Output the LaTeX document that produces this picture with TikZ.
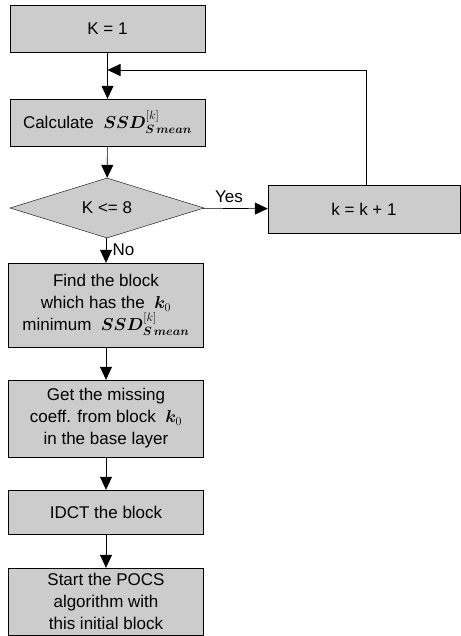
\documentclass[tikz,border=0pt]{standalone}
\usepackage{fontspec}
\usepackage{amsmath,bm}
\setmainfont{Liberation Sans}
\usetikzlibrary{arrows.meta,shapes.geometric}
\definecolor{boxgray}{gray}{0.80}
\tikzset{
  flowbox/.style={draw, fill=boxgray, align=center, minimum width=195pt, inner sep=2pt},
  testbox/.style={draw, fill=boxgray, diamond, aspect=3.2, minimum width=194pt, minimum height=60pt, inner sep=0pt},
  flowarrow/.style={-{Triangle[length=13pt,width=12pt]}, line width=0.6pt}
}
\newcommand{\ssdk}[1]{$\bm{SSD}^{[k]}_{\bm{#1}}$}
\begin{document}
\begin{tikzpicture}[x=1pt,y=1pt,font=\fontsize{17}{22}\selectfont]
\useasboundingbox (0,0) rectangle (460,-636);
\node[flowbox, minimum height=47pt] (k1) at (107.5,-28.5) {K = 1};
\node[flowbox, minimum height=47pt] (calc) at (107.5,-122.5) {Calculate\ \ \ssdk{S\,mean}};
\node[testbox] (test) at (107,-208) {K <= 8};
\node[flowbox, minimum width=192pt, minimum height=48pt] (kinc) at (364,-209) {k = k + 1};
\node[flowbox, minimum height=84pt] (find) at (106,-305) {Find the block\\which has the \ $\bm{k}_0$\\minimum\ \ \ssdk{S\,mean}};
\node[flowbox, minimum height=77pt] (get) at (106,-418.5) {Get the missing\\coeff. from block \ $\bm{k}_0$\\in the base layer};
\node[flowbox, minimum height=44pt] (idct) at (106,-512) {IDCT the block};
\node[flowbox, minimum height=67pt] (start) at (106,-601.5) {Start the POCS\\algorithm with\\this initial block};
\coordinate (loop) at (107.5,-70);

\draw[flowarrow] (k1) -- (calc);
\draw[flowarrow] (calc) -- (test);
\draw[flowarrow] (test) -- node[above, pos=0.4, yshift=2pt] {Yes} (kinc);
\draw[flowarrow] (kinc.north -| 366,0) |- (loop);
\draw[flowarrow] (test.south -| find.north) -- node[right, pos=0.45, xshift=3pt] {No} (find);
\draw[flowarrow] (find) -- (get);
\draw[flowarrow] (get) -- (idct);
\draw[flowarrow] (idct) -- (start);
\end{tikzpicture}
\end{document}
